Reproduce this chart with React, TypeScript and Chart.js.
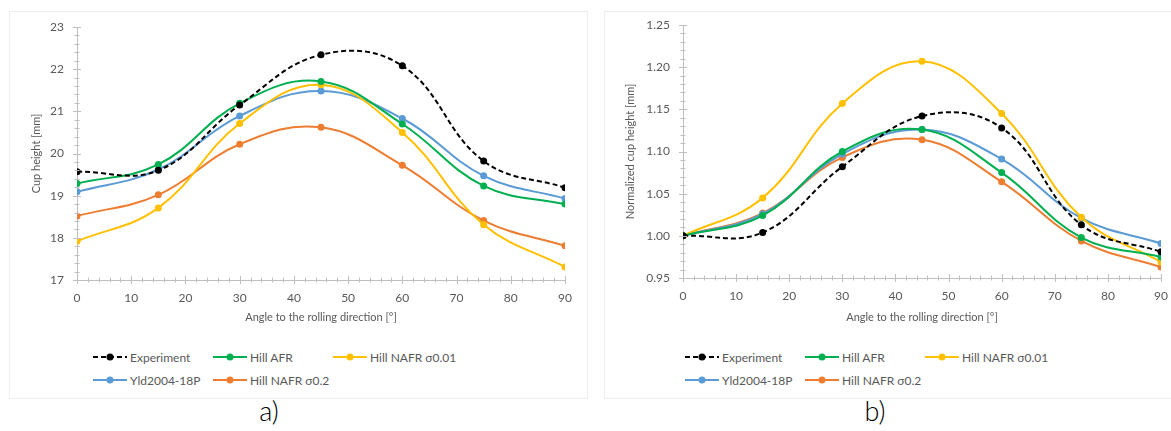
import React, { useEffect, useRef } from "react";
import { Chart, registerables } from "chart.js";

Chart.register(...registerables);

const angles = [0, 15, 30, 45, 60, 75, 90];
const seriesNames = ["Experiment", "Hill AFR", "Hill NAFR σ0.01", "Yld2004-18P", "Hill NAFR σ0.2"];
const seriesColors = ["#000000", "#00B050", "#FFC000", "#5B9BD5", "#ED7D31"];

// panel a) cup height [mm]
const cupExperiment = [19.57, 19.6, 21.15, 22.34, 22.08, 19.82, 19.19];
const cupHillAFR = [19.29, 19.74, 21.19, 21.71, 20.7, 19.23, 18.8];
const cupHillNAFR001 = [17.92, 18.71, 20.71, 21.63, 20.5, 18.31, 17.31];
const cupYld = [19.09, 19.62, 20.89, 21.48, 20.83, 19.47, 18.93];
const cupHillNAFR02 = [18.52, 19.02, 20.22, 20.62, 19.72, 18.41, 17.81];

// panel b) normalized cup height
const normExperiment = [1.0, 1.004, 1.082, 1.142, 1.128, 1.013, 0.981];
const normHillAFR = [1.0, 1.024, 1.1, 1.126, 1.075, 0.998, 0.975];
const normHillNAFR001 = [1.0, 1.045, 1.157, 1.207, 1.145, 1.022, 0.969];
const normYld = [1.0, 1.026, 1.097, 1.126, 1.091, 1.021, 0.991];
const normHillNAFR02 = [1.0, 1.027, 1.093, 1.114, 1.064, 0.994, 0.963];

const xTitle = "Angle to the rolling direction [°]";
const yTitleA = "Cup height [mm]";
const yTitleB = "Normalized cup height [mm]";

const FONT = "Lato, 'Open Sans', sans-serif";
const TEXT = "#595959";
const AXIS = "#BFBFBF";

const minorTicks = {
  id: "minorTicks",
  afterDraw(chart: any, _args: any, opts: any) {
    const ctx = chart.ctx;
    const xs = chart.scales.x;
    const ys = chart.scales.y;
    ctx.save();
    ctx.strokeStyle = AXIS;
    ctx.lineWidth = 1;
    const yAxis = ys.bottom;
    const xAxis = xs.left;
    const nx = Math.round((xs.max - xs.min) / opts.xMinor);
    for (let i = 0; i <= nx; i++) {
      const v = xs.min + i * opts.xMinor;
      const px = Math.round(xs.getPixelForValue(v)) + 0.5;
      const major = Math.abs(v / opts.xMajor - Math.round(v / opts.xMajor)) < 1e-6;
      const l = major ? 4 : 2.5;
      ctx.beginPath();
      ctx.moveTo(px, yAxis - l);
      ctx.lineTo(px, yAxis + l);
      ctx.stroke();
    }
    const ny = Math.round((ys.max - ys.min) / opts.yMinor);
    for (let i = 0; i <= ny; i++) {
      const v = ys.min + i * opts.yMinor;
      const py = Math.round(ys.getPixelForValue(v)) + 0.5;
      const r = v / opts.yMajor;
      const major = Math.abs(r - Math.round(r)) < 1e-6;
      const l = major ? 4 : 2.5;
      ctx.beginPath();
      ctx.moveTo(xAxis - l, py);
      ctx.lineTo(xAxis + l, py);
      ctx.stroke();
    }
    ctx.restore();
  },
};

function makeDatasets(values: number[][]) {
  return values.map((vals, i) => ({
    label: seriesNames[i],
    data: angles.map((a, j) => ({ x: a, y: vals[j] })),
    borderColor: seriesColors[i],
    backgroundColor: seriesColors[i],
    borderWidth: 2,
    borderDash: i === 0 ? [5, 3] : [],
    pointRadius: 3.5,
    pointBorderWidth: 0,
    tension: 0.4,
    order: i === 0 ? 0 : 1,
  }));
}

type PanelProps = {
  values: number[][];
  yMin: number;
  yMax: number;
  yStep: number;
  yMinor: number;
  decimals: number;
  yTitle: string;
  yWidth: number;
  xHeight: number;
  titlePad: number;
  padTop: number;
  padRight: number;
};

function Panel(p: PanelProps) {
  const ref = useRef<HTMLCanvasElement>(null);
  useEffect(() => {
    if (!ref.current) return;
    const chart = new Chart(ref.current, {
      type: "line",
      data: { datasets: makeDatasets(p.values) as any },
      plugins: [minorTicks],
      options: {
        animation: false,
        responsive: false,
        maintainAspectRatio: false,
        layout: { padding: { top: p.padTop, right: p.padRight, left: 0, bottom: 0 } },
        plugins: {
          legend: { display: false },
          tooltip: { enabled: false },
          minorTicks: { xMinor: 2, xMajor: 10, yMinor: p.yMinor, yMajor: p.yStep },
        } as any,
        scales: {
          x: {
            type: "linear",
            min: 0,
            max: 90,
            ticks: { stepSize: 10, color: TEXT, font: { family: FONT, size: 12 }, padding: 0 },
            grid: { drawOnChartArea: false, drawTicks: true, tickLength: 11, tickColor: "rgba(0,0,0,0)" },
            border: { display: true, color: AXIS, width: 1 },
            title: {
              display: true,
              text: xTitle,
              color: TEXT,
              font: { family: FONT, size: 11 },
              padding: { top: 0, bottom: 6 },
            },
            afterFit: (s: any) => {
              s.height = p.xHeight;
            },
          },
          y: {
            type: "linear",
            min: p.yMin,
            max: p.yMax,
            ticks: {
              stepSize: p.yStep,
              color: TEXT,
              font: { family: FONT, size: 12 },
              padding: 0,
              callback: (v: any) => Number(v).toFixed(p.decimals),
            },
            grid: { drawOnChartArea: false, drawTicks: true, tickLength: 13, tickColor: "rgba(0,0,0,0)" },
            border: { display: true, color: AXIS, width: 1 },
            title: {
              display: true,
              text: p.yTitle,
              color: TEXT,
              font: { family: FONT, size: 11 },
              padding: { top: p.titlePad, bottom: 0 },
            },
            afterFit: (s: any) => {
              s.width = p.yWidth;
            },
          },
        },
      } as any,
    });
    return () => chart.destroy();
  }, []);
  return <canvas ref={ref} width={566} height={320} style={{ display: "block" }} />;
}

function Swatch({ i }: { i: number }) {
  return (
    <svg width={34} height={10} style={{ display: "block", marginRight: 3 }}>
      <line
        x1={0}
        y1={5}
        x2={34}
        y2={5}
        stroke={seriesColors[i]}
        strokeWidth={2}
        strokeDasharray={i === 0 ? "5 3" : undefined}
      />
      <circle cx={17} cy={5} r={3.5} fill={seriesColors[i]} />
    </svg>
  );
}

function Legend({ left }: { left: number }) {
  const pos = [
    [0, 0],
    [120, 0],
    [240, 0],
    [0, 23],
    [120, 23],
  ];
  return (
    <>
      {seriesNames.map((n, i) => (
        <div
          key={n}
          style={{
            position: "absolute",
            left: left + pos[i][0],
            top: 348 + pos[i][1],
            height: 18,
            display: "flex",
            alignItems: "center",
            fontFamily: FONT,
            fontSize: 12,
            color: TEXT,
            whiteSpace: "nowrap",
          }}
        >
          <Swatch i={i} />
          <span>{n}</span>
        </div>
      ))}
    </>
  );
}

export default function App() {
  const box: React.CSSProperties = {
    position: "absolute",
    top: 11,
    height: 388,
    border: "1px solid #EEEEEE",
    boxSizing: "border-box",
  };
  const label: React.CSSProperties = {
    position: "absolute",
    top: 410,
    transform: "translate(-50%, -50%)",
    fontFamily: FONT,
    fontSize: 27,
    fontWeight: 300,
    color: "#000",
  };
  return (
    <div
      style={{
        position: "absolute",
        left: 0,
        top: 0,
        width: 1171,
        height: 431,
        background: "#fff",
        overflow: "hidden",
      }}
    >
      <div style={{ ...box, left: 9, width: 579 }} />
      <div style={{ ...box, left: 604, width: 570 }} />
      <div style={{ position: "absolute", left: 10, top: 10 }}>
        <Panel
          values={[cupExperiment, cupHillAFR, cupHillNAFR001, cupYld, cupHillNAFR02]}
          yMin={17}
          yMax={23}
          yStep={1}
          yMinor={0.2}
          decimals={0}
          yTitle={yTitleA}
          yWidth={67}
          xHeight={50}
          titlePad={20}
          padTop={17}
          padRight={11}
        />
      </div>
      <div style={{ position: "absolute", left: 605, top: 10 }}>
        <Panel
          values={[normExperiment, normHillAFR, normHillNAFR001, normYld, normHillNAFR02]}
          yMin={0.95}
          yMax={1.25}
          yStep={0.05}
          yMinor={0.01}
          decimals={2}
          yTitle={yTitleB}
          yWidth={78}
          xHeight={52}
          titlePad={19}
          padTop={15}
          padRight={10}
        />
      </div>
      <Legend left={93} />
      <Legend left={685} />
      <div style={{ ...label, left: 269 }}>a)</div>
      <div style={{ ...label, left: 875 }}>b)</div>
    </div>
  );
}
